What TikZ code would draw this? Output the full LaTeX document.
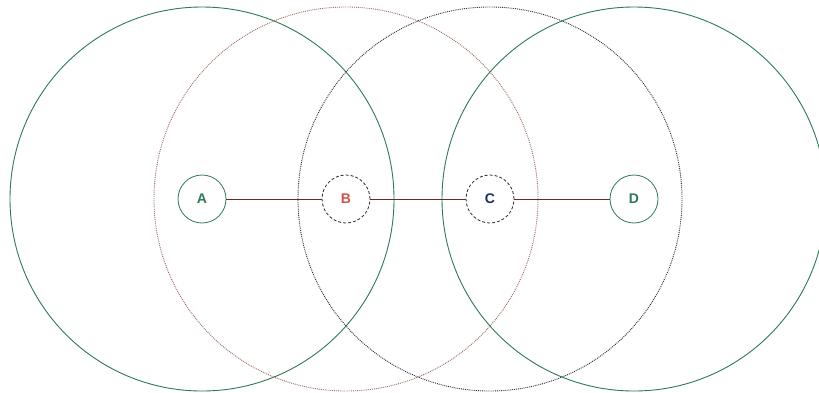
\documentclass[tikz,border=0pt]{standalone}
\usepackage{fontspec}
\setmainfont{Liberation Sans}
\definecolor{cgreen}{HTML}{2E7A55}
\definecolor{cbrown}{HTML}{9A6A60}
\definecolor{cdark}{HTML}{2A2A3A}
\definecolor{cline}{HTML}{6A2A24}
\definecolor{cred}{HTML}{D0504A}
\definecolor{cnavy}{HTML}{1F2E66}
\tikzset{
  small/.style={circle, minimum size=48pt, inner sep=0pt, font=\fontsize{14}{16}\selectfont\bfseries, line width=0.8pt},
  bigring/.style={line width=0.9pt},
}
\begin{document}
\begin{tikzpicture}[x=1pt,y=-1pt]
\useasboundingbox (0,0) rectangle (819,392);
\clip (0,0) rectangle (819,392);
\fill[white] (0,0) rectangle (819,392);
\coordinate (cA) at (202,199);
\coordinate (cB) at (346,199);
\coordinate (cC) at (490,199);
\coordinate (cD) at (634,199);
\draw[bigring, cgreen] (cA) circle[radius=192pt];
\draw[bigring, cbrown, densely dotted] (cB) circle[radius=192pt];
\draw[bigring, cdark, densely dotted] (cC) circle[radius=192pt];
\draw[bigring, cgreen] (cD) circle[radius=192pt];
\node[small, draw=cgreen, text=cgreen, fill=white] (A) at (cA) {A};
\node[small, draw=cdark, densely dashed, text=cred, fill=white] (B) at (cB) {B};
\node[small, draw=cdark, densely dashed, text=cnavy, fill=white] (C) at (cC) {C};
\node[small, draw=cgreen, text=cgreen, fill=white] (D) at (cD) {D};
\draw[cline, line width=1pt] (A) -- (B);
\draw[cline, line width=1pt] (B) -- (C);
\draw[cline, line width=1pt] (C) -- (D);
\end{tikzpicture}
\end{document}
